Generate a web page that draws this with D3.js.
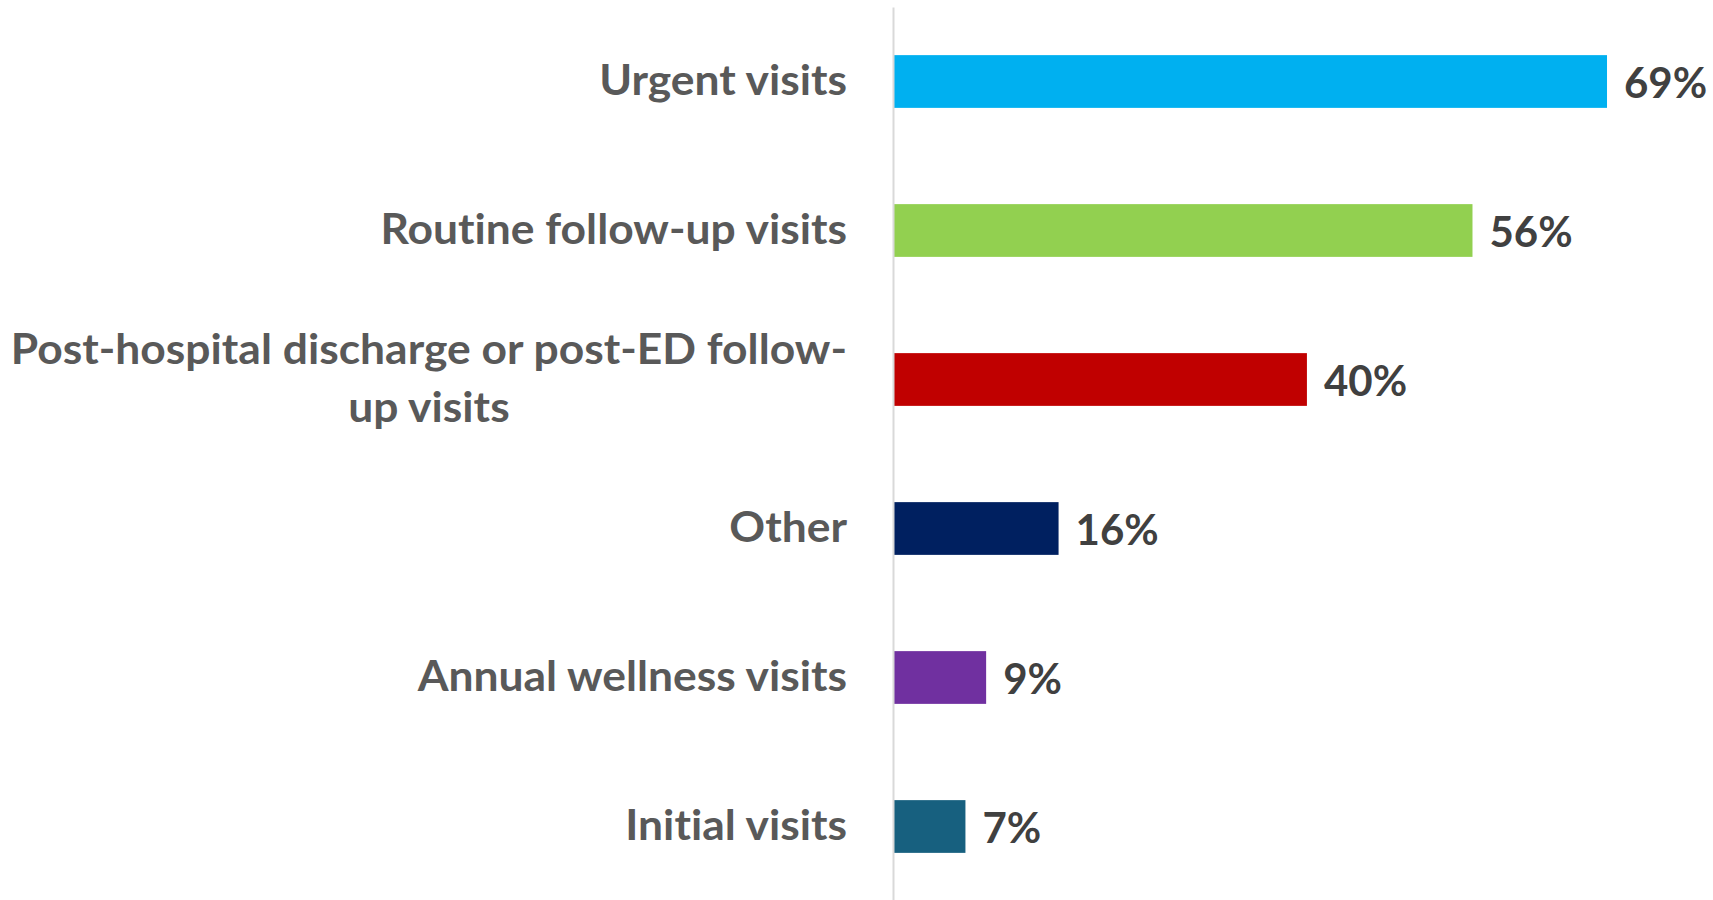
<!DOCTYPE html>
<html>
<head>
<meta charset="utf-8">
<script src="https://cdn.jsdelivr.net/npm/d3@7"></script>
<style>
  html, body { margin: 0; padding: 0; background: #fff; }
  svg { display: block; }
  text { font-family: Lato, "Open Sans", sans-serif; font-weight: 700; font-variant-ligatures: none; }
</style>
</head>
<body>
<svg id="chart" width="1713" height="900"></svg>
<script>
// Share of practices offering each visit type
const categories = [
  "Urgent visits",
  "Routine follow-up visits",
  "Post-hospital discharge or post-ED follow-up visits",
  "Other",
  "Annual wellness visits",
  "Initial visits"
];
const categoryLines = [
  ["Urgent visits"],
  ["Routine follow-up visits"],
  ["Post-hospital discharge or post-ED follow-", "up visits"],
  ["Other"],
  ["Annual wellness visits"],
  ["Initial visits"]
];
const values = [0.69, 0.56, 0.40, 0.16, 0.09, 0.07];
const barColors = ["#00B0F0", "#92D050", "#C00000", "#002060", "#7030A0", "#17607F"];

const svg = d3.select("#chart");
const axisX = 893;

const y = d3.scaleBand()
  .domain(categories)
  .range([7, 901])
  .paddingInner(0.646)
  .paddingOuter(0.323);

const x = d3.scaleLinear()
  .domain([0, 1])
  .range([axisX, axisX + 1034.8]);

const rows = categories.map((c, i) => ({
  cat: c, lines: categoryLines[i], value: values[i], color: barColors[i]
}));

// bars
svg.append("g")
  .selectAll("rect")
  .data(rows)
  .join("rect")
  .attr("x", x(0))
  .attr("y", d => y(d.cat))
  .attr("width", d => x(d.value) - x(0))
  .attr("height", y.bandwidth())
  .attr("fill", d => d.color);

// category axis (vertical line + labels)
const labelSize = 42;
const capH = labelSize * 0.72;
const lineGap = 58;
const widen = 1.057;   // slightly wider letterforms for the category labels

const axis = svg.append("g")
  .attr("transform", `translate(${axisX},0)`)
  .call(d3.axisLeft(y).tickSize(0).tickFormat(""));
axis.select(".domain").attr("stroke", "#D9D9D9").attr("stroke-width", 2);

const labels = svg.append("g");
rows.forEach(d => {
  const cy = y(d.cat) + y.bandwidth() / 2;
  const n = d.lines.length;
  const firstBase = cy + capH / 2 - 2 - (n - 1) * lineGap / 2;
  const t = labels.append("text")
    .attr("font-size", labelSize)
    .attr("fill", "#595959")
    .attr("text-anchor", n > 1 ? "middle" : "end");
  d.lines.forEach((ln, k) => {
    const ts = t.append("tspan").attr("x", 0).attr("y", firstBase + k * lineGap).text(ln);
    const w = ts.node().getComputedTextLength();
    ts.attr("textLength", w * widen).attr("lengthAdjust", "spacingAndGlyphs");
  });
  if (n > 1) {
    const w = t.node().getBBox().width;
    t.attr("transform", `translate(${axisX - 46 - w / 2},0)`);
  } else {
    t.attr("transform", `translate(${axisX - 46},0)`);
  }
});

// value labels
svg.append("g")
  .selectAll("text")
  .data(rows)
  .join("text")
  .attr("x", d => x(d.value) + 17)
  .attr("y", d => y(d.cat) + y.bandwidth() / 2 + capH / 2 + 1)
  .attr("font-size", 42)
  .attr("fill", "#404040")
  .text(d => d3.format(".0%")(d.value));
</script>
</body>
</html>
